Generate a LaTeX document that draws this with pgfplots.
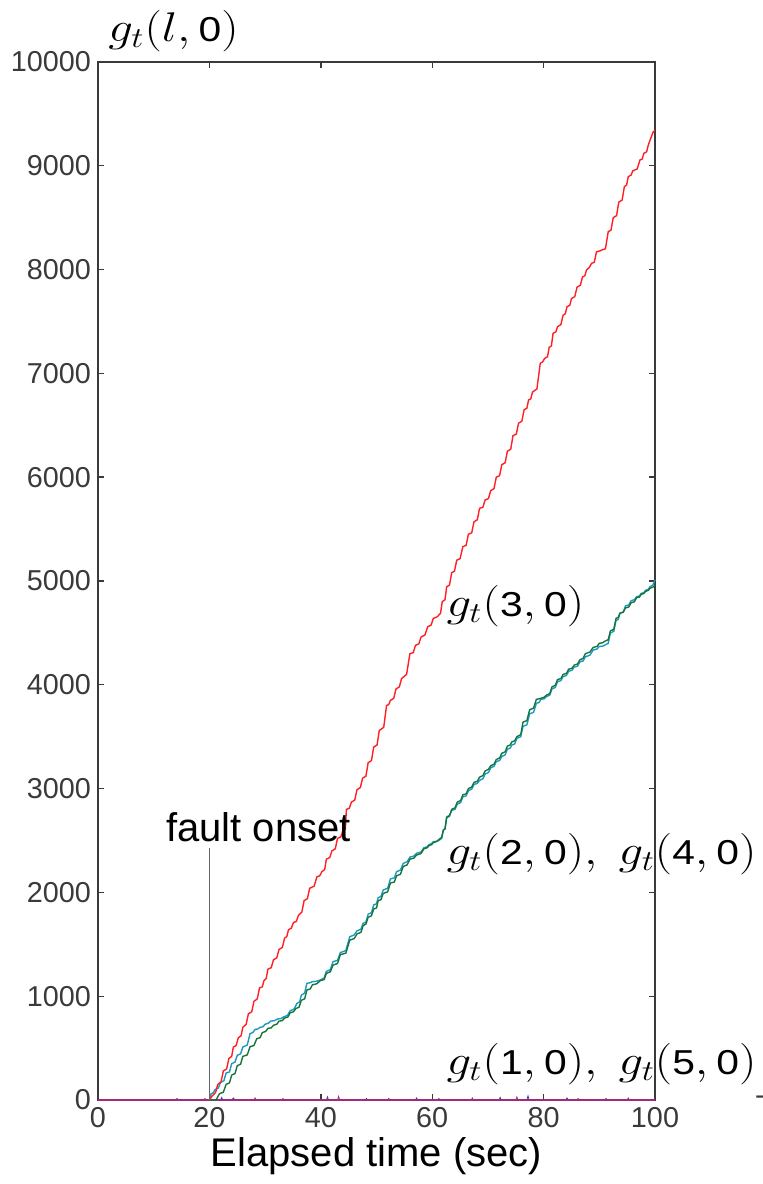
\documentclass[border=0pt]{standalone}
\usepackage{fontspec}
\setmainfont{Liberation Sans}
\usepackage{graphicx}
\usepackage{pgfplots}
\pgfplotsset{compat=1.18}
\definecolor{cred}{HTML}{FF1F24}
\definecolor{cgreen}{HTML}{16763A}
\definecolor{ccyan}{HTML}{1E98C2}
\definecolor{cmag}{HTML}{A02A7E}
\definecolor{cblue}{HTML}{3A3AB0}
\definecolor{axgray}{HTML}{3A3A3A}
\newcommand{\dg}[1]{\mbox{\fontsize{17.3}{19}\selectfont #1}}
\newcommand{\lab}[1]{\scalebox{1.18}[1]{\fontsize{20}{22}\selectfont $#1$}}
\begin{document}
\begin{tikzpicture}
\begin{axis}[
  scale only axis, width=278.5pt, height=519pt,
  xmin=0, xmax=100, ymin=0, ymax=10000,
  xtick={0,20,...,100}, ytick={0,1000,...,10000},
  tick align=inside, major tick length=3pt,
  axis line style={axgray, line width=0.9pt},
  tick style={axgray, line width=0.7pt},
  ticklabel style={font=\fontsize{14.4}{16}\selectfont, text=axgray},
  /pgf/number format/assume math mode=true,
  /pgf/number format/1000 sep={},
  scaled y ticks=false,
  xlabel={Elapsed time (sec)},
  xlabel style={font=\fontsize{20}{22}\selectfont, yshift=2pt},
  clip=false,
]
\addplot[cblue, line width=0.4pt] coordinates {
(0,0) (14,0) (14.2,15) (14.4,0) (22,0) (22.2,25) (22.4,0) (24,0) (24.3,20) (24.6,0)
(41,0) (41.2,30) (41.4,0) (48,0) (48.2,15) (48.4,0) (57,0) (57.2,20) (57.4,0)
(61,0) (61.2,15) (61.4,0) (72,0) (72.2,25) (72.4,0) (77,0) (77.2,40) (77.4,0)
(84,0) (84.2,20) (84.4,0) (91,0) (91.2,15) (91.4,0) (100,0)};
\addplot[cmag, line width=0.4pt] coordinates {
(0,0) (19,0) (19.2,15) (19.4,0) (28,0) (28.2,20) (28.4,0) (33,0) (33.2,15) (33.4,0)
(43,0) (43.2,35) (43.4,0) (52,0) (52.2,15) (52.4,0) (67,0) (67.2,20) (67.4,0)
(75,0) (75.2,30) (75.4,0) (86,0) (86.2,15) (86.4,0) (95,0) (95.2,20) (95.4,0) (100,0)};
\addplot[cmag, line width=1.1pt] coordinates {(0,0) (100,0)};
\addplot[ccyan, line width=0.7pt] coordinates {
(20,0) (20.3,60) (20.7,70) (21,100) (21.6,115) (22,170) (22.6,185) (23,260) (23.6,270) (24,350) (24.6,365) (25,430) (25.6,445) (26,510) (26.8,530) (27.3,640) (27.8,650) (28.2,680) (28.7,685) (29.1,700) (29.6,705) (30,730) (30.6,740) (31,760) (31.7,765) (32.2,780) (32.9,785) (33.3,800) (34,815) (34.5,860) (35.2,875) (35.7,930) (36.2,945) (36.5,1010) (37.1,1030) (37.5,1124) (38.1,1130) (38.5,1140) (39.3,1145) (39.9,1156) (40.6,1175) (41,1240) (41.7,1255) (42.2,1333) (43,1345) (43.5,1420) (44.5,1440) (45.2,1573) (46,1590) (46.5,1630) (47.2,1645) (47.6,1702) (48.1,1715) (48.5,1790) (49.1,1805) (49.5,1880) (50,1890) (50.3,1950) (50.8,1960) (51.2,2023) (52,2040) (52.5,2130) (53.2,2140) (53.6,2200) (54.3,2215) (54.8,2280) (55.5,2295) (56,2340) (56.7,2350) (57.2,2377) (58,2390) (58.5,2430) (59.1,2440) (59.4,2460) (59.9,2470) (60.2,2489) (60.8,2492) (61.2,2500) (61.7,2520) (62,2600) (62.3,2615) (62.6,2729) (63.1,2740) (63.5,2790) (64.1,2800) (64.5,2850) (65.1,2865) (65.5,2920) (66.1,2930) (66.5,2980) (67.1,2995) (67.5,3040) (68.1,3050) (68.5,3080) (69.1,3095) (69.5,3140) (70.1,3155) (70.5,3200) (71.1,3215) (71.5,3260) (72.1,3270) (72.5,3310) (73.1,3325) (73.5,3380) (74,3390) (74.3,3420) (74.8,3430) (75.2,3484) (75.9,3500) (76.3,3600) (77,3615) (77.5,3720) (78.2,3735) (78.7,3822) (79.2,3830) (79.5,3860) (80.1,3865) (80.5,3886) (81.1,3900) (81.5,3960) (82.1,3975) (82.5,4030) (83.1,4040) (83.5,4079) (84.1,4090) (84.5,4130) (85.1,4140) (85.5,4170) (86.1,4180) (86.5,4220) (87.1,4230) (87.5,4270) (88.3,4285) (88.9,4335) (89.6,4345) (90,4370) (90.6,4372) (91,4383) (91.6,4400) (92,4500) (92.6,4515) (93,4620) (93.4,4630) (93.7,4689) (94.3,4700) (94.7,4760) (95.3,4770) (95.7,4810) (96.3,4820) (96.7,4849) (97.2,4855) (97.5,4880) (98,4888) (98.3,4910) (98.8,4920) (99.1,4945) (99.6,4960) (100,5010)};
\addplot[cgreen, line width=0.7pt] coordinates {
(20,0) (21.2,0) (21.8,60) (22.5,75) (23,150) (23.6,165) (24,240) (24.6,255) (25,330) (25.6,345) (26,420) (26.8,435) (27.3,513) (28,525) (28.5,590) (29.1,600) (29.5,650) (30.1,660) (30.5,690) (31.1,695) (31.5,720) (32.1,730) (32.5,760) (33.1,765) (33.5,790) (34.1,800) (34.5,840) (35.1,850) (35.5,880) (36.1,895) (36.5,960) (37.1,975) (37.5,1060) (38.1,1070) (38.5,1110) (39.3,1120) (39.9,1150) (40.6,1160) (41,1220) (41.7,1235) (42.2,1300) (43,1315) (43.5,1400) (44.5,1415) (45.2,1540) (46,1555) (46.5,1600) (47.2,1615) (47.6,1680) (48.1,1695) (48.5,1760) (49.1,1775) (49.5,1840) (50,1850) (50.3,1920) (50.8,1930) (51.2,1990) (52,2005) (52.5,2090) (53.2,2100) (53.6,2160) (54.3,2175) (54.8,2250) (55.5,2265) (56,2320) (56.7,2330) (57.2,2360) (58,2375) (58.5,2420) (59.1,2430) (59.4,2450) (59.9,2460) (60.2,2480) (60.8,2490) (61.2,2510) (61.7,2530) (62,2600) (62.3,2610) (62.6,2720) (63.1,2735) (63.5,2800) (64.1,2815) (64.5,2870) (65.1,2885) (65.5,2940) (66.1,2950) (66.5,3000) (67.1,3015) (67.5,3060) (68.1,3070) (68.5,3110) (69.1,3125) (69.5,3170) (70.1,3185) (70.5,3220) (71.1,3235) (71.5,3280) (72.1,3295) (72.5,3340) (73.1,3355) (73.5,3410) (74,3420) (74.3,3450) (74.8,3460) (75.2,3500) (75.9,3520) (76.3,3640) (77,3655) (77.5,3760) (78.2,3775) (78.7,3860) (79.2,3865) (79.5,3870) (80.1,3880) (80.5,3900) (81.1,3915) (81.5,3980) (82.1,3995) (82.5,4050) (83.1,4060) (83.5,4100) (84.1,4110) (84.5,4150) (85.1,4160) (85.5,4190) (86.1,4200) (86.5,4240) (87.1,4255) (87.5,4300) (88.3,4315) (88.9,4360) (89.6,4370) (90,4400) (90.6,4405) (91,4420) (91.6,4435) (92,4520) (92.6,4535) (93,4640) (93.4,4650) (93.7,4690) (94.3,4700) (94.7,4740) (95.3,4750) (95.7,4790) (96.3,4800) (96.7,4840) (97.2,4845) (97.5,4870) (98,4880) (98.3,4900) (98.8,4910) (99.1,4930) (99.6,4940) (100,4960)};
\addplot[cred, line width=0.7pt] coordinates {
(20,0) (20.5,40) (21.1,70) (21.5,150) (22.1,175) (22.5,280) (23.1,300) (23.5,400) (24,420) (24.3,510) (24.8,525) (25.2,600) (25.7,620) (26,700) (26.6,730) (27,830) (27.6,850) (28,950) (28.6,975) (29,1080) (29.5,1090) (29.8,1150) (30.2,1170) (30.5,1260) (31.1,1275) (31.5,1350) (32.1,1370) (32.5,1450) (33.1,1470) (33.5,1560) (33.9,1575) (34.2,1640) (34.7,1655) (35.1,1710) (35.6,1720) (36,1780) (36.6,1810) (37,1920) (37.6,1940) (38,2040) (38.8,2060) (39.3,2150) (39.8,2160) (40.2,2200) (40.7,2220) (41,2320) (41.6,2335) (42,2400) (42.6,2420) (43,2520) (43.6,2535) (44,2600) (44.4,2610) (44.6,2800) (45.1,2810) (45.5,2870) (46.1,2890) (46.5,2990) (47.1,3010) (47.5,3100) (48.1,3120) (48.5,3250) (49.1,3270) (49.5,3400) (50.1,3420) (50.5,3560) (51.3,3590) (51.8,3800) (52.2,3810) (52.5,3850) (53.1,3870) (53.5,3960) (54.1,3980) (54.5,4060) (55.4,4100) (56,4300) (56.6,4310) (57,4380) (57.6,4395) (58,4460) (58.7,4480) (59.2,4560) (59.8,4575) (60.2,4640) (60.7,4650) (61,4660) (61.5,4690) (61.8,4800) (62.3,4820) (62.6,4945) (63.1,4960) (63.5,5080) (64,5095) (64.4,5200) (65,5215) (65.5,5330) (66.1,5345) (66.5,5450) (67.1,5465) (67.5,5570) (68.1,5590) (68.5,5700) (69.1,5710) (69.5,5780) (70.1,5795) (70.5,5870) (71.1,5890) (71.5,6000) (72.1,6015) (72.5,6120) (73.1,6140) (73.5,6250) (74.1,6270) (74.5,6400) (75.1,6415) (75.5,6520) (76.1,6540) (76.5,6650) (77,6665) (77.3,6744) (77.7,6755) (78,6820) (78.8,6850) (79.4,7097) (79.8,7110) (80.2,7145) (80.7,7160) (81,7250) (81.4,7265) (81.7,7386) (82.2,7400) (82.5,7450) (83.1,7470) (83.5,7560) (83.9,7575) (84.2,7643) (84.7,7655) (85,7720) (85.6,7740) (86,7830) (86.6,7850) (87,7930) (87.4,7940) (87.7,7996) (88.2,8020) (88.6,8060) (89.1,8070) (89.5,8172) (90.1,8180) (90.5,8190) (91.1,8200) (91.6,8365) (92.1,8380) (92.5,8500) (93.1,8520) (93.5,8650) (94.1,8670) (94.5,8800) (94.9,8815) (95.2,8896) (95.7,8910) (96,8950) (96.8,8970) (97.3,9056) (97.7,9065) (98,9120) (98.5,9135) (98.8,9200) (99.2,9260) (99.7,9329) (100,9340)};
\addplot[gray!80!black, line width=0.5pt] coordinates {(20,0) (20,2430)};
\node[font=\fontsize{20}{22}\selectfont] at (axis cs:28.8,2630) {fault onset};
\node[anchor=west, inner sep=0pt] at (axis cs:1.8,10299) {\lab{g_t(l,\dg{0})}};
\node[anchor=west, inner sep=0pt] at (axis cs:62.5,4760) {\lab{g_t(\dg{3},\dg{0})}};
\node[anchor=west, inner sep=0pt] at (axis cs:62.5,2370) {\lab{g_t(\dg{2},\dg{0}),\ g_t(\dg{4},\dg{0})}};
\node[anchor=west, inner sep=0pt] at (axis cs:62.5,347) {\lab{g_t(\dg{1},\dg{0}),\ g_t(\dg{5},\dg{0})}};
\node[font=\fontsize{14}{14}\selectfont, text=axgray] at (axis cs:118.8,0) {-};
\end{axis}
\pgfresetboundingbox
\path ([shift={(-49pt,-42pt)}]current axis.south west) rectangle ([shift={(53.5pt,31pt)}]current axis.north east);
\end{tikzpicture}
\end{document}
